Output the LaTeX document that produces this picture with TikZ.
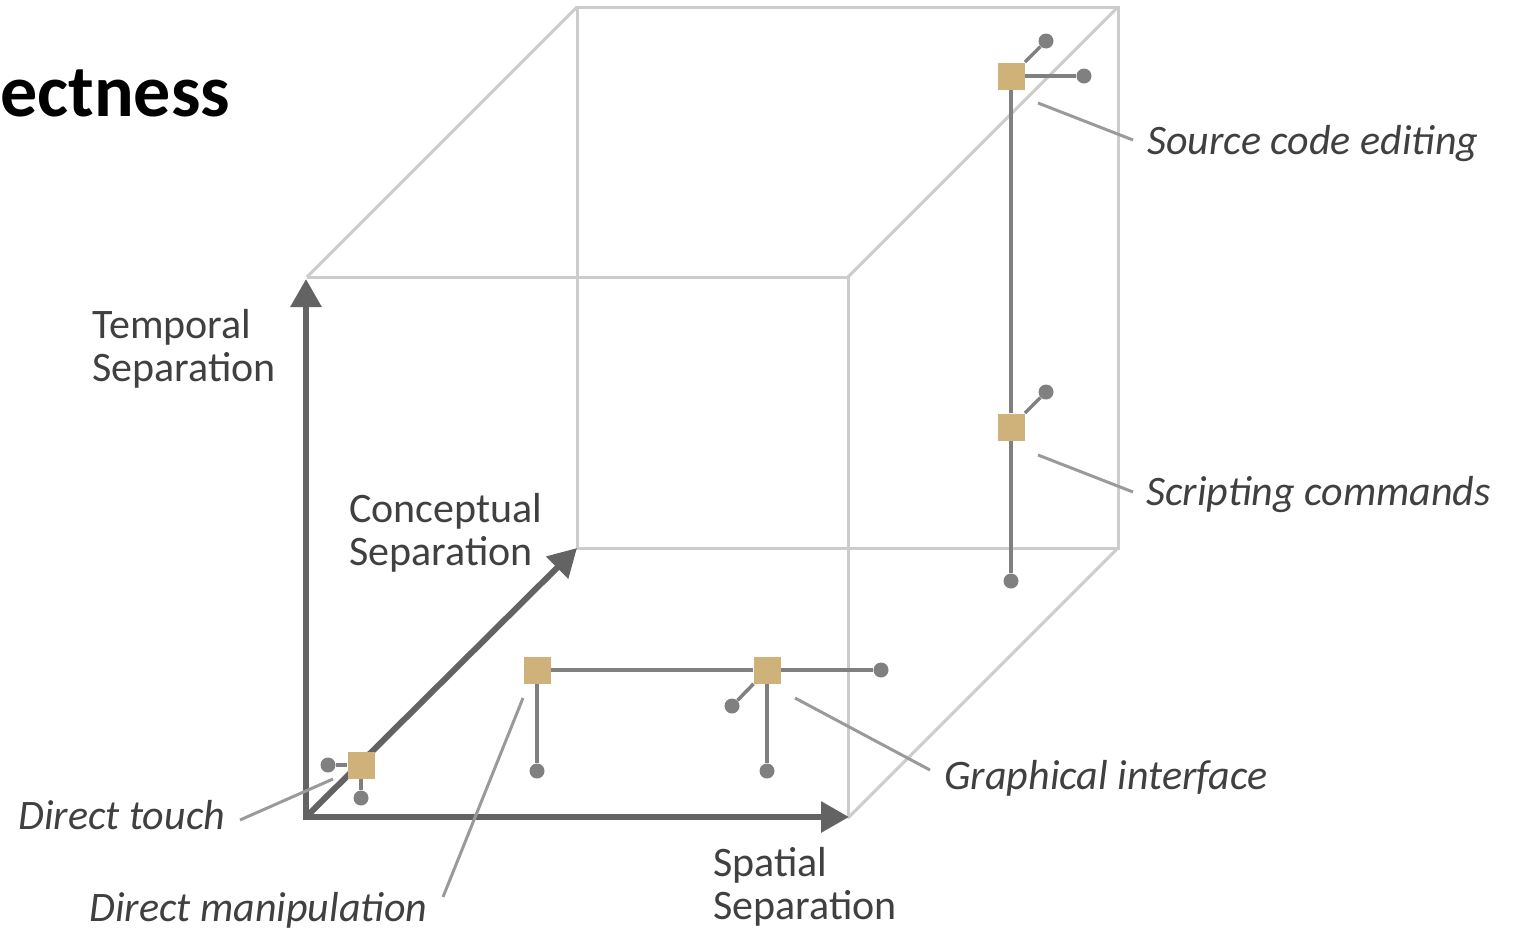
\documentclass[tikz,border=0pt]{standalone}
\usepackage{fontspec}
\setmainfont{Carlito}
\usetikzlibrary{arrows.meta}
\definecolor{cubegray}{HTML}{CCCCCC}
\definecolor{axisgray}{HTML}{636363}
\definecolor{linkgray}{HTML}{808080}
\definecolor{leadgray}{HTML}{9A9A9A}
\definecolor{tan}{HTML}{CEB27A}
\definecolor{textgray}{HTML}{404040}
\tikzset{
  cubeedge/.style={draw=cubegray, line width=1.5bp},
  axisline/.style={draw=axisgray, line width=3bp},
  axtip/.tip={Triangle[length=14bp,width=15bp]},
  link/.style={draw=linkgray, line width=1.75bp},
  leader/.style={draw=leadgray, line width=1.5bp},
  point/.style={rectangle, fill=tan, minimum size=13.5bp, inner sep=0pt},
  dot/.style={circle, fill=linkgray, minimum size=7.5bp, inner sep=0pt},
  axislabel/.style={text=textgray, font=\fontsize{21bp}{21.2bp}\selectfont, inner sep=0pt, align=left, anchor=base west},
  pointlabel/.style={text=textgray, font=\fontsize{21bp}{20bp}\selectfont\itshape, inner sep=0pt, anchor=base west},
}
\begin{document}
\begin{tikzpicture}[x=0.5bp, y=-0.5bp]
\useasboundingbox (0,0) rectangle (1524,930);
% cube corners
\coordinate (FTL) at (307,277);
\coordinate (FTR) at (848,277);
\coordinate (FBR) at (848,818);
\coordinate (FBL) at (306,817);
\coordinate (BTL) at (577,7);
\coordinate (BTR) at (1118,7);
\coordinate (BBR) at (1118,548);
\coordinate (BBL) at (577,548);
% cube edges
\draw[cubeedge] (FTL) -- (FTR) -- (FBR);
\draw[cubeedge] (BTL) -- (BTR) -- (BBR) -- (BBL) -- cycle;
\draw[cubeedge] (FTL) -- (BTL);
\draw[cubeedge] (FTR) -- (BTR);
\draw[cubeedge] (FBR) -- (BBR);
% axes
\coordinate (O) at (306,817);
\coordinate (Ttip) at (306,279);
\coordinate (Stip) at (849,817);
\draw[axisline, axtip-axtip] (Ttip) -- (O) -- (Stip);
\draw[axisline, -axtip] (O) -- (BBL);
% title
\node[font=\fontsize{37bp}{40bp}\selectfont\bfseries, inner sep=0pt, anchor=base west] (title) at (0,116) {ectness};
% axis labels (anchor at baseline of last line)
\node[axislabel] (temporal) at (92,381) {Temporal\\Separation};
\node[axislabel] (conceptual) at (349,565) {Conceptual\\Separation};
\node[axislabel] (spatial) at (713,919) {Spatial\\Separation};
% points
\node[point] (src) at (1011,76) {};
\node[point] (scr) at (1011,427) {};
\node[point] (dt) at (361,765) {};
\node[point] (dm) at (537,670) {};
\node[point] (gi) at (767,670) {};
% dots
\node[dot] (srcNE) at (1046,41) {};
\node[dot] (srcE) at (1084,76) {};
\node[dot] (scrNE) at (1046,392) {};
\node[dot] (scrS) at (1011,581) {};
\node[dot] (dtW) at (328,765) {};
\node[dot] (dtS) at (361,798) {};
\node[dot] (dmS) at (537,771) {};
\node[dot] (giE) at (881,670) {};
\node[dot] (giSW) at (732,706) {};
\node[dot] (giS) at (767,771) {};
% links
\draw[link] (src) -- (srcNE);
\draw[link] (src) -- (srcE);
\draw[link] (src) -- (scr);
\draw[link] (scr) -- (scrNE);
\draw[link] (scr) -- (scrS);
\draw[link] (dt) -- (dtW);
\draw[link] (dt) -- (dtS);
\draw[link] (dm) -- (gi);
\draw[link] (dm) -- (dmS);
\draw[link] (gi) -- (giE);
\draw[link] (gi) -- (giSW);
\draw[link] (gi) -- (giS);
% redraw squares on top
\node[point] at (src) {};
\node[point] at (scr) {};
\node[point] at (dt) {};
\node[point] at (dm) {};
\node[point] at (gi) {};
% point labels
\node[pointlabel] (lsrc) at (1147,154) {Source code editing};
\node[pointlabel] (lscr) at (1146,505) {Scripting commands};
\node[pointlabel] (lgi) at (944,789) {Graphical interface};
\node[pointlabel] (ldt) at (18,829) {Direct touch};
\node[pointlabel] (ldm) at (89,921) {Direct manipulation};
% leaders
\coordinate (a1) at (1133,140); \coordinate (b1) at (1038,103);
\coordinate (a2) at (1133,492); \coordinate (b2) at (1038,455);
\coordinate (a3) at (930,770);  \coordinate (b3) at (795,698);
\coordinate (a4) at (240,820);  \coordinate (b4) at (333,779);
\coordinate (a5) at (443,897);  \coordinate (b5) at (523,698);
\draw[leader] (a1) -- (b1);
\draw[leader] (a2) -- (b2);
\draw[leader] (a3) -- (b3);
\draw[leader] (a4) -- (b4);
\draw[leader] (a5) -- (b5);
\end{tikzpicture}
\end{document}
